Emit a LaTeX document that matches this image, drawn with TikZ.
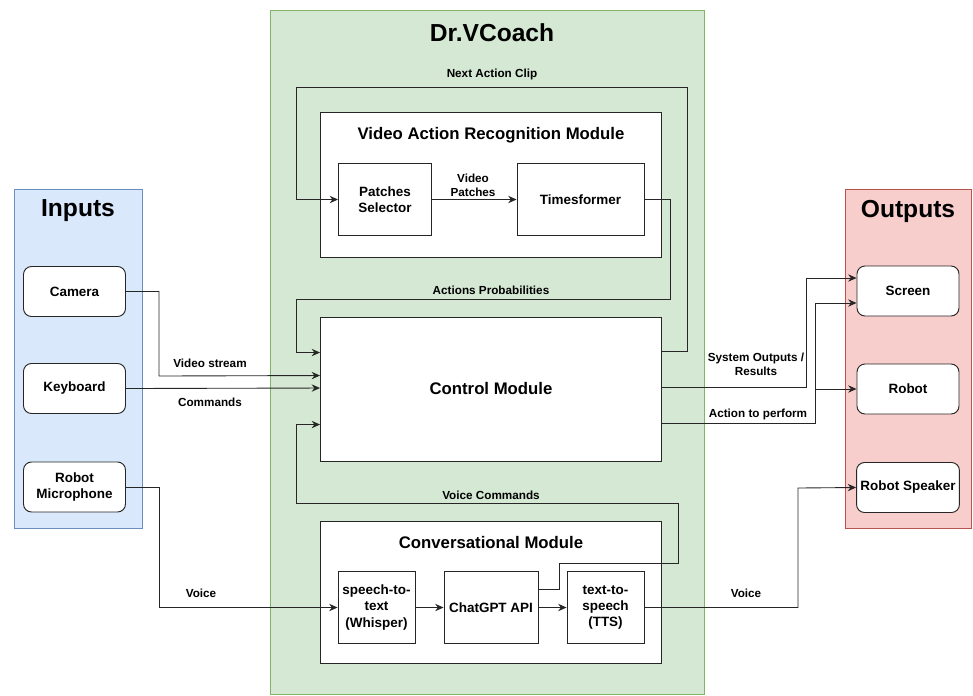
\documentclass[tikz,border=0pt]{standalone}
\usepackage{fontspec}
\setmainfont{Liberation Sans}
\usetikzlibrary{arrows.meta, positioning, calc}

\definecolor{inblue}{HTML}{DAE8FC}
\definecolor{inblueline}{HTML}{6C8EBF}
\definecolor{coachgreen}{HTML}{D5E8D4}
\definecolor{coachgreenline}{HTML}{82B366}
\definecolor{outred}{HTML}{F8CECC}
\definecolor{outredline}{HTML}{B85450}

\begin{document}
\begin{tikzpicture}[x=0.03cm, y=-0.03cm,
        iobox/.style={rectangle, rounded corners=2.4mm, draw=black!85, line width=0.8pt, fill=white, minimum width=3.06cm, minimum height=1.5cm, align=center, font=\fontsize{11.5}{14}\selectfont\bfseries},
        subbox/.style={rectangle, draw=black!85, line width=0.8pt, fill=white, minimum height=2.14cm, align=center, font=\fontsize{11.5}{14}\selectfont\bfseries},
        module/.style={rectangle, draw=black!85, line width=0.8pt, fill=white, minimum width=10.23cm},
        ptitle/.style={font=\fontsize{21}{25}\selectfont\bfseries},
        mtitle/.style={font=\fontsize{14.3}{17}\selectfont\bfseries},
        elabel/.style={font=\fontsize{10}{12}\selectfont\bfseries, align=center, inner sep=1pt},
        conn/.style={-{Stealth[length=2.5mm, width=2.2mm]}, line width=0.75pt, draw=black!85}
    ]
        % page and panels
        \fill[white] (0,0) rectangle (973,695);
        \draw[fill=inblue, draw=inblueline, line width=0.7pt] (14,189) rectangle (142,528);
        \draw[fill=coachgreen, draw=coachgreenline, line width=0.7pt] (270,10) rectangle (704,694.6);
        \draw[fill=outred, draw=outredline, line width=0.7pt] (845,189) rectangle (971,528);
        \node[ptitle] (intitle) at (78,211) {Inputs};
        \node[ptitle] (coachtitle) at (492,33) {Dr.VCoach};
        \node[ptitle] (outtitle) at (908,211) {Outputs};

        % inputs
        \node[iobox] (cam) at (74.5,291.5) {Camera};
        \node[iobox] (kb) at (74.5,388.5) {Keyboard};
        \node[iobox] (mic) at (74.5,487) {Robot\\Microphone};

        % outputs
        \node[iobox] (scr) at (908,291) {Screen};
        \node[iobox] (rob) at (908,389) {Robot};
        \node[iobox] (spk) at (908,487.5) {Robot Speaker};

        % video action recognition module
        \node[module, minimum height=4.35cm] (var) at (491,184.5) {};
        \node[mtitle] (vartitle) at (491,135) {Video Action Recognition Module};
        \node[subbox, minimum width=2.79cm] (ps) at (385,199.5) {Patches\\Selector};
        \node[subbox, minimum width=3.81cm] (tf) at (580.5,199.5) {Timesformer};

        % control module
        \node[module, minimum height=4.32cm, font=\fontsize{14.3}{17}\selectfont\bfseries] (ctrl) at (491,389) {Control Module};

        % conversational module
        \node[module, minimum height=4.26cm] (conv) at (491,592) {};
        \node[mtitle] (convtitle) at (491,543) {Conversational Module};
        \node[subbox, minimum width=2.31cm] (stt) at (376.5,607.5) {speech-to-\\text\\(Whisper)};
        \node[subbox, minimum width=2.82cm] (gpt) at (491,607.5) {ChatGPT API};
        \node[subbox, minimum width=2.31cm] (tts) at (605.5,607.5) {text-to-\\speech\\(TTS)};

        % connectors inside the modules
        \draw[conn] (ps) -- (tf);
        \draw[conn] (stt) -- (gpt);
        \draw[conn] (gpt) -- (tts);
        \node[elabel] (lblpatch) at (473,185) {Video\\Patches};

        % feedback loops
        \draw[conn] ($(ctrl.north east)+(0,35)$) -| (687,87) -- (296,87) |- (ps.west);
        \node[elabel] (lblnext) at (492,74) {Next Action Clip};
        \draw[conn] (tf.east) -| (670,299) -- (296,299) |- ($(ctrl.north west)+(0,36)$);
        \node[elabel] (lblprob) at (491,290) {Actions Probabilities};
        \draw[conn] ($(gpt.east)+(0,-18)$) -| (559,563) -| (678,503) -- (296,503) |- ($(ctrl.north west)+(0,108)$);
        \node[elabel] (lblvcmd) at (491,495) {Voice Commands};

        % inputs to the system
        \draw[conn] (cam.east) -| (159,376) -- ($(ctrl.north west)+(0,59)$);
        \node[elabel] (lblvid) at (210,363) {Video stream};
        \draw[conn] (kb.east) -- ($(ctrl.north west)+(0,71.5)$);
        \node[elabel] (lblcmd) at (210,402) {Commands};
        \draw[conn] (mic.east) -| (159,607.5) -- (stt.west);
        \node[elabel] (lblvoicein) at (201,593) {Voice};

        % system to the outputs
        \draw[conn] ($(ctrl.north east)+(0,71)$) -| (806,278) -- ($(scr.west)+(0,-13)$);
        \node[elabel] (lblres) at (756,364) {System Outputs /\\Results};
        \draw[conn] ($(ctrl.north east)+(0,107)$) -| (815,303) -- ($(scr.west)+(0,12)$);
        \draw[conn] ($(ctrl.north east)+(0,107)$) -| (815,389) -- (rob.west);
        \node[elabel] (lblact) at (758,414) {Action to perform};
        \draw[conn] (tts.east) -| (798,488) -- (spk.west);
        \node[elabel] (lblvoiceout) at (746,593) {Voice};
    \end{tikzpicture}
\end{document}
